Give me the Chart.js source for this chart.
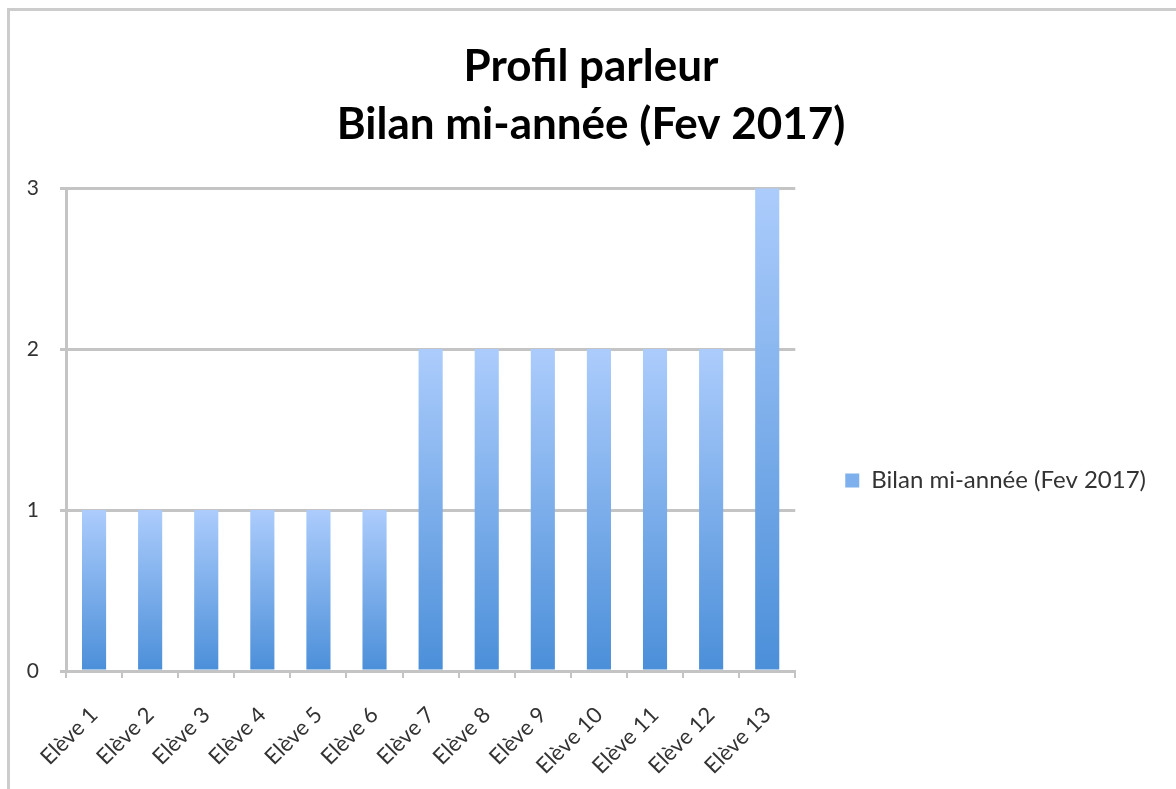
<!DOCTYPE html>
<html>
<head>
<meta charset="utf-8">
<script src="https://cdn.jsdelivr.net/npm/chart.js@4"></script>
<style>
html,body{margin:0;padding:0;background:#fff;}
#wrap{position:relative;width:1176px;height:789px;overflow:hidden;}
#frame{position:absolute;left:7px;top:8px;width:1250px;height:850px;border:3px solid #cccccc;box-sizing:border-box;}
canvas{position:absolute;left:0;top:0;}
</style>
</head>
<body>
<div id="wrap"><div id="frame"></div><canvas id="c" width="1176" height="789"></canvas></div>
<script>
const categories = ["Elève 1","Elève 2","Elève 3","Elève 4","Elève 5","Elève 6","Elève 7","Elève 8","Elève 9","Elève 10","Elève 11","Elève 12","Elève 13"];
const seriesName = "Bilan mi-année (Fev 2017)";
const values = [1,1,1,1,1,1,2,2,2,2,2,2,3];
const yTicks = [0,1,2,3];
const titleLines = ["Profil parleur","Bilan mi-année (Fev 2017)"];

const FONT = "Lato";
const GRID = "#c4c4c4";

function barGradient(ctx){
  const chart = ctx.chart;
  if (!chart.chartArea || ctx.raw === undefined) return "#6aa3e6";
  const y = chart.scales.y;
  const top = y.getPixelForValue(ctx.raw);
  const bottom = y.getPixelForValue(0);
  const g = chart.ctx.createLinearGradient(0, top, 0, bottom);
  g.addColorStop(0, "#acccfc");
  g.addColorStop(1, "#4b8fd9");
  return g;
}

new Chart(document.getElementById("c"), {
  type: "bar",
  data: {
    labels: categories,
    datasets: [{
      label: seriesName,
      data: values,
      backgroundColor: barGradient,
      borderWidth: 0,
      categoryPercentage: 1.0,
      barPercentage: 0.43
    }]
  },
  options: {
    responsive: false,
    animation: false,
    devicePixelRatio: 1,
    layout: { padding: { left: 26, right: 20, top: 0, bottom: 0 } },
    plugins: {
      title: {
        display: true,
        text: titleLines,
        color: "#000",
        font: { family: FONT, size: 44, weight: "bold", lineHeight: 1.32 },
        padding: { top: 38, bottom: 34 }
      },
      legend: {
        position: "right",
        maxWidth: 400,
        title: { display: true, text: " ", font: { family: FONT, size: 10, lineHeight: 1 }, padding: { top: 162, bottom: 0 } },
        labels: {
          color: "#333",
          font: { family: FONT, size: 24 },
          boxWidth: 14, boxHeight: 14,
          padding: 50,
          generateLabels: (chart) => [{
            text: seriesName, fillStyle: "#7fb0ee", strokeStyle: "#7fb0ee", lineWidth: 0, hidden: false, datasetIndex: 0, fontColor: "#333"
          }]
        }
      },
      tooltip: { enabled: false }
    },
    scales: {
      x: {
        offset: true,
        grid: { offset: true, drawOnChartArea: false, drawTicks: true, tickLength: 7, color: GRID, lineWidth: 2 },
        border: { display: true, color: GRID, width: 3 },
        ticks: { color: "#333", font: { family: FONT, size: 22 }, minRotation: 45, maxRotation: 45, padding: 24 },
        afterFit: (s) => { s.height = 118; }
      },
      y: {
        min: 0, max: 3,
        afterBuildTicks: (s) => { s.ticks = yTicks.map(v => ({ value: v })); },
        grid: { color: GRID, lineWidth: 3, drawTicks: true, tickLength: 6 },
        border: { display: true, color: GRID, width: 3 },
        ticks: { color: "#333", font: { family: FONT, size: 21 }, padding: 21 },
        afterFit: (s) => { s.width = 40; }
      }
    }
  }
});
</script>
</body>
</html>
